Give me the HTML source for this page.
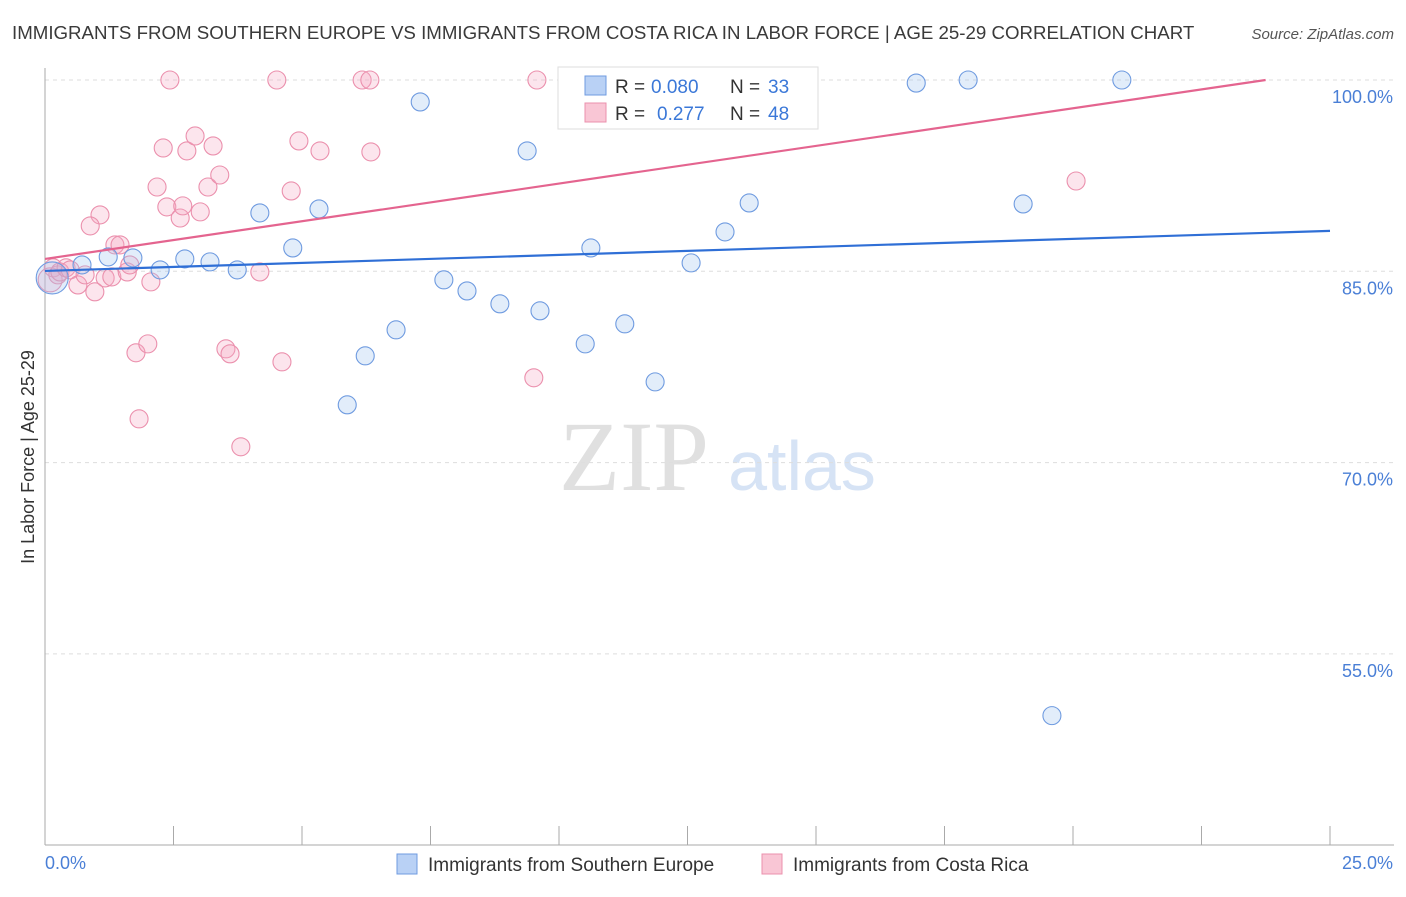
<!DOCTYPE html>
<html><head><meta charset="utf-8"><style>
body{margin:0;background:#fff;font-family:"Liberation Sans",sans-serif}
</style></head><body>
<svg id="c" width="1406" height="892" xmlns="http://www.w3.org/2000/svg" font-family="Liberation Sans, sans-serif">
<text x="12" y="39" font-size="18.7" fill="#3a3a3a">IMMIGRANTS FROM SOUTHERN EUROPE VS IMMIGRANTS FROM COSTA RICA IN LABOR FORCE | AGE 25-29 CORRELATION CHART</text>
<text x="1394" y="39" font-size="15" fill="#555" text-anchor="end" font-style="italic">Source: ZipAtlas.com</text>
<text transform="translate(34,457) rotate(-90)" font-size="18" fill="#333" text-anchor="middle">In Labor Force | Age 25-29</text>
<g>
<text x="634" y="490" font-size="100" fill="#e0e0e0" style="font-family:'Liberation Serif',serif" text-anchor="middle">ZIP</text>
<text x="802" y="490" font-size="70" fill="#d6e3f5" text-anchor="middle">atlas</text></g>
<g id="grid"></g><g id="axes"></g><g id="pts"></g><g id="lines"></g>
<g>
<rect x="558" y="67" width="260" height="62" fill="#fff" stroke="#ddd"/>
<rect x="585" y="76" width="21" height="19" fill="#b9d1f5" stroke="#6f9be0"/>
<rect x="585" y="103" width="21" height="19" fill="#f9c6d5" stroke="#eb90ad"/>
<text x="615" y="93" font-size="19" fill="#333">R =</text>
<text x="651" y="93" font-size="19" fill="#3b78d8">0.080</text>
<text x="730" y="93" font-size="19" fill="#333">N =</text>
<text x="768" y="93" font-size="19" fill="#3b78d8">33</text>
<text x="615" y="120" font-size="19" fill="#333">R =</text>
<text x="657" y="120" font-size="19" fill="#3b78d8">0.277</text>
<text x="730" y="120" font-size="19" fill="#333">N =</text>
<text x="768" y="120" font-size="19" fill="#3b78d8">48</text>
</g>
<g>
<rect x="397" y="854" width="20" height="20" fill="#b9d1f5" stroke="#6f9be0"/>
<text x="428" y="871" font-size="19" fill="#333">Immigrants from Southern Europe</text>
<rect x="762" y="854" width="20" height="20" fill="#f9c6d5" stroke="#eb90ad"/>
<text x="793" y="871" font-size="19" fill="#333">Immigrants from Costa Rica</text>
</g>
</svg>
<script>
const yTicks=[100,85,70,55];
const yTickLabels=["100.0%","85.0%","70.0%","55.0%"];
const xTickCount=10;
const blueX=[0.14,0.72,1.23,1.71,2.24,2.72,3.21,3.74,4.18,4.82,5.33,5.88,6.23,6.83,7.30,7.76,8.21,8.85,9.38,9.63,10.51,10.62,11.28,11.87,12.22,12.57,13.23,13.70,16.95,17.96,19.03,19.59,20.95];
const blueY=[84.48,85.50,86.13,86.05,85.11,85.97,85.74,85.11,89.58,86.83,89.89,74.53,78.37,80.41,98.28,84.33,83.46,82.45,94.44,81.90,79.31,86.83,80.88,76.33,100,85.66,88.09,90.36,99.76,100,90.28,50.16,100];
const pinkX=[0.10,0.16,0.25,0.29,0.41,0.49,0.64,0.78,0.97,1.07,0.88,1.17,1.30,1.36,1.46,1.60,1.65,1.77,1.83,2.00,2.06,2.18,2.30,2.37,2.43,2.63,2.68,2.76,2.92,3.02,3.17,3.27,3.40,3.52,3.60,3.81,4.18,4.51,4.61,4.79,4.94,5.35,6.17,6.32,6.34,9.51,9.57,20.06];
const pinkY=[84.33,85.27,84.72,84.95,85.27,85.11,83.93,84.72,83.39,89.42,88.56,84.48,84.56,87.07,87.07,84.95,85.50,78.61,73.43,79.31,84.17,91.61,94.67,90.05,100,89.18,90.13,94.44,95.61,89.66,91.61,94.83,92.55,78.92,78.53,71.24,84.95,100,77.90,91.30,95.22,94.44,100,100,94.36,76.65,100,92.08];
const blueTrend=[85.03,88.17];
const pinkTrend=[85.97,100.74];
const NS="http://www.w3.org/2000/svg";
const X=v=>45+v*51.4, Y=v=>80+(100-v)*191.3/15;
function mk(t,a,p){const e=document.createElementNS(NS,t);for(const k in a)e.setAttribute(k,a[k]);document.getElementById(p).appendChild(e);return e;}
yTicks.forEach((t,i)=>{
 const l=mk('line',{x1:45,x2:1394,y1:Y(t),y2:Y(t),stroke:'#ddd','stroke-dasharray':'4,4'},'grid');
 
 
 const tx=mk('text',{x:1393,y:Y(t)+23,'font-size':18,fill:'#4a7fd6','text-anchor':'end'},'axes');tx.textContent=yTickLabels[i];
 
 
});
mk('line',{x1:45,x2:45,y1:68,y2:845,stroke:'#aaa'},'axes');
mk('line',{x1:45,x2:1394,y1:845,y2:845,stroke:'#aaa'},'axes');
for(let i=0;i<=xTickCount;i++){const x=X(i*25/xTickCount);const t=mk('line',{x1:x,x2:x,y1:826,y2:845,stroke:'#aaa'},'axes');
 
 }
let a=mk('text',{x:45,y:869,'font-size':18,fill:'#4a7fd6'},'axes');a.textContent='0.0%';
a=mk('text',{x:1393,y:869,'font-size':18,fill:'#4a7fd6','text-anchor':'end'},'axes');a.textContent='25.0%';
function pts(xs,ys,f,s,name){xs.forEach((x,i)=>{const r=i==0?(name=='blue-point'?16:12):9;
 const c=mk('circle',{cx:X(x),cy:Y(ys[i]),r:r,fill:f,stroke:s,'stroke-width':1.1},'pts');
 
 });}
pts(pinkX,pinkY,'rgba(246,170,195,0.3)','#eb90ad','pink-point');
pts(blueX,blueY,'rgba(160,195,240,0.3)','#6f9be0','blue-point');
let bl=mk('line',{x1:X(0),y1:Y(blueTrend[0]),x2:X(25),y2:Y(blueTrend[1]),stroke:'#2f6fd6','stroke-width':2.2},'lines');


const slope=(pinkTrend[1]-pinkTrend[0])/25;let xe=25,ye=pinkTrend[1];if(ye>100){xe=(100-pinkTrend[0])/slope;ye=100;}
let pl=mk('line',{x1:X(0),y1:Y(pinkTrend[0]),x2:X(xe),y2:Y(ye),stroke:'#e4648f','stroke-width':2.2},'lines');


</script>
</body></html>
